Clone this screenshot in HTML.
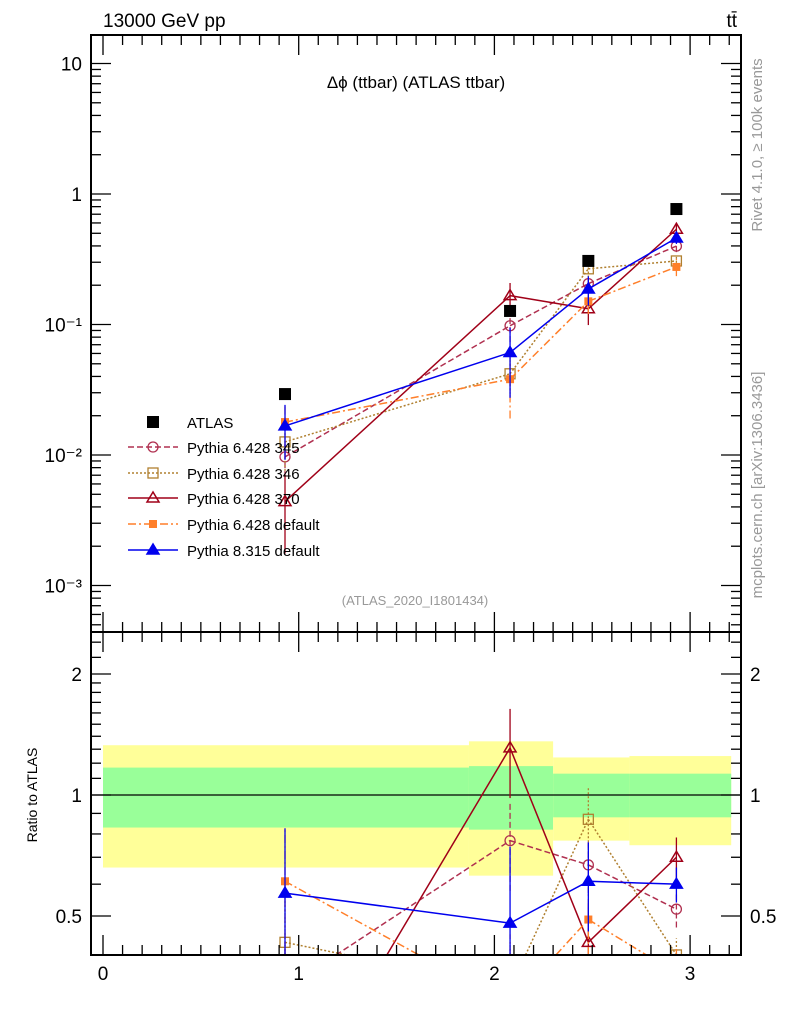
<!DOCTYPE html>
<html><head><meta charset="utf-8"><style>
html,body{margin:0;padding:0;background:#fff;width:786px;height:1024px;overflow:hidden;}
svg{display:block;font-family:"Liberation Sans",sans-serif;}
</style></head><body>
<svg id="c" width="786" height="1024" xmlns="http://www.w3.org/2000/svg">
<defs>
<clipPath id="cm"><rect x="91" y="35" width="650" height="597"/></clipPath>
<clipPath id="cr"><rect x="91" y="632" width="650" height="323"/></clipPath>
</defs>
<g id="bands" clip-path="url(#cr)"></g>
<g id="lines"></g>
<rect x="91" y="35" width="650" height="597" fill="none" stroke="#000" stroke-width="2"/>
<rect x="91" y="632" width="650" height="323" fill="none" stroke="#000" stroke-width="2"/>
<g id="ticks" stroke="#000" stroke-width="1.3"></g>
<g id="labels" font-size="19"></g>
<text x="103" y="27" font-size="19">13000 GeV pp</text>
<text x="737" y="27" font-size="19" text-anchor="end">tt̄</text>
<text x="416" y="88" font-size="17" text-anchor="middle">Δϕ (ttbar) (ATLAS ttbar)</text>
<text x="415" y="605" font-size="13" fill="#999" text-anchor="middle">(ATLAS_2020_I1801434)</text>
<text transform="translate(762,145) rotate(-90)" font-size="15" fill="#999" text-anchor="middle">Rivet 4.1.0, ≥ 100k events</text>
<text transform="translate(762,485) rotate(-90)" font-size="15" fill="#999" text-anchor="middle">mcplots.cern.ch [arXiv:1306.3436]</text>
<text transform="translate(37,795) rotate(-90)" font-size="14" text-anchor="middle">Ratio to ATLAS</text>
<g id="legend" font-size="15"></g>
</svg>
<script>
const xs=[0.93,2.08,2.48,2.93];
const atlas=[0.0293,0.127,0.307,0.767];
const binEdges=[0,1.87,2.30,2.69,3.21];
const yellowHi=[1.33,1.36,1.24,1.25];
const yellowLo=[0.66,0.63,0.77,0.75];
const greenHi=[1.17,1.18,1.13,1.13];
const greenLo=[0.83,0.82,0.88,0.88];
const seriesNames=["Pythia 6.428 345","Pythia 6.428 346","Pythia 6.428 370","Pythia 6.428 default","Pythia 8.315 default"];
const r345=[0.33,0.77,0.67,0.52];
const r346=[0.43,0.33,0.87,0.40];
const r370=[0.15,1.31,0.43,0.70];
const rP6=[0.61,0.30,0.49,0.36];
const rP8=[0.57,0.48,0.61,0.60];
const e345=[0.3,0.25,0.15,0.1];
const e346=[0.4,0.3,0.2,0.1];
const e370=[0.6,0.25,0.25,0.12];
const eP6=[0.35,0.5,0.2,0.15];
const eP8=[0.45,0.55,0.25,0.1];
const xTicks=[0,1,2,3];
const mainTicks=[10,1,0.1,0.01,0.001];
const mainTickLabels=["10","1","10⁻¹","10⁻²","10⁻³"];
const ratioTicks=[2,1,0.5];
const ratioTickLabels=["2","1","0.5"];

const NS="http://www.w3.org/2000/svg";
const X=v=>103+v*195.7;
const YM=v=>194-Math.log10(v)*130.5;
const YR=v=>795-Math.log2(v)*121;
function mk(tag,attrs,parent){const e=document.createElementNS(NS,tag);for(const k in attrs)e.setAttribute(k,attrs[k]);parent.appendChild(e);return e;}
const bandsG=document.getElementById('bands'),linesG=document.getElementById('lines'),ticksG=document.getElementById('ticks'),labelsG=document.getElementById('labels'),legendG=document.getElementById('legend');

for(let i=0;i<4;i++){
  const x0=X(binEdges[i]),x1=X(binEdges[i+1]);
  const yb=mk('rect',{x:x0,y:YR(yellowHi[i]),width:x1-x0,height:YR(yellowLo[i])-YR(yellowHi[i]),fill:'#ffff99'},bandsG);
  
  
  const gb=mk('rect',{x:x0,y:YR(greenHi[i]),width:x1-x0,height:YR(greenLo[i])-YR(greenHi[i]),fill:'#99ff99'},bandsG);
  
  
}
const oneLine=mk('line',{x1:91,x2:741,y1:YR(1),y2:YR(1),stroke:'#000','stroke-width':1.3},bandsG);



const styles=[
 {c:'#b03050',d:'6,3',m:'circle',r:r345,e:e345},
 {c:'#b08030',d:'2,2',m:'osq',r:r346,e:e346},
 {c:'#a00018',d:'',m:'otri',r:r370,e:e370},
 {c:'#ff7f2a',d:'8,3,2,3',m:'fsq',r:rP6,e:eP6},
 {c:'#0000ee',d:'',m:'ftri',r:rP8,e:eP8}
];
function marker(p,type,x,y,c,ymin,ymax){
  if(ymin!==undefined&&(y<ymin-6||y>ymax+6))return null;
  if(type==='circle')return mk('circle',{cx:x,cy:y,r:5,fill:'none',stroke:c,'stroke-width':1.3},p);
  if(type==='osq')return mk('rect',{x:x-5,y:y-5,width:10,height:10,fill:'none',stroke:c,'stroke-width':1.3},p);
  if(type==='fsq')return mk('rect',{x:x-4,y:y-4,width:8,height:8,fill:c},p);
  if(type==='bsq')return mk('rect',{x:x-6,y:y-6,width:12,height:12,fill:c},p);
  const pts=`${x},${y-6} ${x-6},${y+4} ${x+6},${y+4}`;
  return mk('polygon',{points:pts,fill:type==='ftri'?c:'none',stroke:c,'stroke-width':1.5},p);
}
// clip segment to y range; returns null if fully outside
function clipSeg(xa,ya,xb,yb,y0,y1){
  let t0=0,t1=1;const dy=yb-ya;
  if(dy===0){if(ya<y0||ya>y1)return null;return [xa,ya,xb,yb];}
  let ta=(y0-ya)/dy,tb=(y1-ya)/dy;if(ta>tb){const t=ta;ta=tb;tb=t;}
  t0=Math.max(t0,ta);t1=Math.min(t1,tb);if(t0>=t1)return null;
  return [xa+(xb-xa)*t0,ya+dy*t0,xa+(xb-xa)*t1,ya+dy*t1];
}
styles.forEach((s,si)=>{
  ['m','r'].forEach(panel=>{
    const y0=panel==='m'?35:632,y1=panel==='m'?632:955;
    const g=mk('g',{'clip-path':panel==='m'?'url(#cm)':'url(#cr)'},linesG);
    
    
    const Y=panel==='m'?(i)=>YM(s.r[i]*atlas[i]):(i)=>YR(s.r[i]);
    const Yv=panel==='m'?(i,v)=>YM(v*atlas[i]):(i,v)=>YR(v);
    for(let i=0;i<xs.length-1;i++){
      const c=clipSeg(X(xs[i]),Y(i),X(xs[i+1]),Y(i+1),y0,y1);
      if(c)mk('line',{x1:c[0],y1:c[1],x2:c[2],y2:c[3],stroke:s.c,'stroke-width':1.5,'stroke-dasharray':s.d},g);
    }
    xs.forEach((x,i)=>{
      const lo=Math.max(s.r[i]*(1-s.e[i]),1e-4),hi=s.r[i]*(1+s.e[i]);
      const c=clipSeg(X(x),Yv(i,lo),X(x),Yv(i,hi),y0,y1);
      if(c)mk('line',{x1:c[0],x2:c[2],y1:c[1],y2:c[3],stroke:s.c,'stroke-width':1.3,'stroke-dasharray':s.d},g);
      marker(g,s.m,X(x),Y(i),s.c,y0,y1);
    });
  });
});
const ag=mk('g',{'clip-path':'url(#cm)'},linesG);


xs.forEach((x,i)=>{marker(ag,'bsq',X(x),YM(atlas[i]),'#000');});

function tl(x1,y1,x2,y2){mk('line',{x1:x1,y1:y1,x2:x2,y2:y2},ticksG);}
[[35,1],[632,-1],[632,1],[955,-1]].forEach(([y,dir])=>{
  for(let k=0;k<=32;k++){const v=k/10;const x=X(v);const major=k%10===0;if(x<92||x>740)continue;tl(x,y,x,y+dir*(major?20:10));}
});
for(let d=-4;d<=1;d++){for(let k=1;k<10;k++){const v=k*Math.pow(10,d);const y=YM(v);if(y<36||y>631)continue;const L=k===1?20:10;tl(91,y,91+L,y);tl(741,y,741-L,y);}}
const rt=[0.4,0.5,0.6,0.7,0.8,0.9,1,1.1,1.2,1.3,1.4,1.5,1.6,1.7,1.8,1.9,2,2.2,2.4];
rt.forEach(v=>{const y=YR(v);if(y<633||y>954)return;const major=[0.5,1,2].includes(v);const L=major?20:10;tl(91,y,91+L,y);tl(741,y,741-L,y);});
xTicks.forEach(v=>{const t=mk('text',{x:X(v),y:980,'text-anchor':'middle'},labelsG);t.textContent=v;
 
 });
mainTicks.forEach((v,i)=>{const t=mk('text',{x:82,y:YM(v)+7,'text-anchor':'end'},labelsG);t.textContent=mainTickLabels[i];
 
 });
ratioTicks.forEach((v,i)=>{
 const t=mk('text',{x:82,y:YR(v)+7,'text-anchor':'end'},labelsG);t.textContent=ratioTickLabels[i];
 
 
 const t2=mk('text',{x:750,y:YR(v)+7},labelsG);t2.textContent=ratioTickLabels[i];
 
 });

const ly=[422,447,473,498,524,550];
const e0=mk('g',{},legendG);


marker(e0,'bsq',153,ly[0],'#000');
const t0=mk('text',{x:187,y:ly[0]+6},e0);t0.textContent='ATLAS';
styles.forEach((s,i)=>{
  const g=mk('g',{},legendG);
  
  
  mk('line',{x1:128,x2:178,y1:ly[i+1],y2:ly[i+1],stroke:s.c,'stroke-width':1.5,'stroke-dasharray':s.d},g);
  marker(g,s.m,153,ly[i+1],s.c);
  const t=mk('text',{x:187,y:ly[i+1]+6},g);t.textContent=seriesNames[i];
});
</script>
</body></html>
